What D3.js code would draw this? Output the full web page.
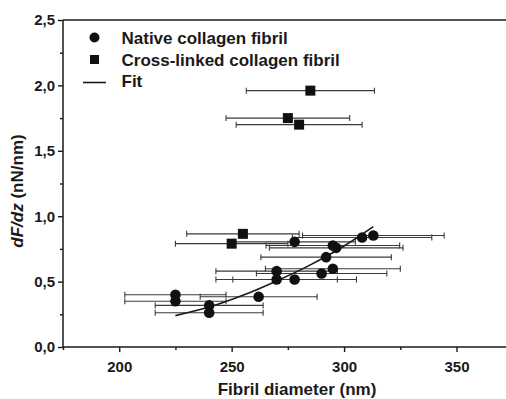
<!DOCTYPE html>
<html>
<head>
<meta charset="utf-8">
<script src="https://cdn.jsdelivr.net/npm/d3@7"></script>
<style>
  html, body { margin: 0; padding: 0; background: #fff; }
  svg { display: block; font-family: "Liberation Sans", Arial, sans-serif; }
</style>
</head>
<body>
<svg id="chart" width="506" height="399"></svg>
<script>
// ---- data ----
const nativeX   = [225, 225, 240, 240, 262, 270, 270, 278, 278, 290, 295, 292, 295, 296.5, 308, 313];
const nativeY   = [0.40, 0.35, 0.318, 0.262, 0.384, 0.58, 0.516, 0.516, 0.804, 0.562, 0.598, 0.687, 0.776, 0.758, 0.837, 0.852];
const nativeErr = [22.5, 22.5, 24, 24, 26, 27, 27, 27.5, 27, 29, 30, 29, 29.7, 29.7, 31, 31.5];

const crossX   = [285, 275, 280, 255, 250];
const crossY   = [1.96, 1.75, 1.70, 0.865, 0.79];
const crossErr = [28.5, 27.5, 28, 25, 25];

const fitX = [225, 240, 255, 270, 285, 300, 313];
const fitY = [0.24, 0.305, 0.395, 0.505, 0.628, 0.772, 0.92];

const xMajorTicks = [200, 250, 300, 350];
const xMinorTicks = [175, 225, 275, 325];
const yMajorTicks = [0, 0.5, 1.0, 1.5, 2.0, 2.5];
const yMinorTicks = [0.25, 0.75, 1.25, 1.75, 2.25];

const legendLabels = ["Native collagen fibril", "Cross-linked collagen fibril", "Fit"];
const xTitle = "Fibril diameter (nm)";

// ---- layout ----
const W = 506, H = 399;
const L = 63, R = 506, T = 20, B = 347;
const ink = "#1a1a1a";

const svg = d3.select("#chart");
const x = d3.scaleLinear().domain([175, 372]).range([L, R]);
const y = d3.scaleLinear().domain([0, 2.5]).range([B, T]);

const loc = d3.formatLocale({decimal: ",", thousands: ".", grouping: [3], currency: ["", ""]});
const yFmt = loc.format(".1f");

// axes
const gx = svg.append("g").attr("transform", `translate(0,${B})`)
  .call(d3.axisBottom(x).tickValues(xMajorTicks).tickSize(5).tickPadding(9).tickFormat(d3.format("d")));
const gxm = svg.append("g").attr("transform", `translate(0,${B})`)
  .call(d3.axisBottom(x).tickValues(xMinorTicks).tickSize(3).tickFormat(""));
const gy = svg.append("g").attr("transform", `translate(${L},0)`)
  .call(d3.axisLeft(y).tickValues(yMajorTicks).tickSize(5).tickPadding(3).tickFormat(yFmt));
const gym = svg.append("g").attr("transform", `translate(${L},0)`)
  .call(d3.axisLeft(y).tickValues(yMinorTicks).tickSize(3).tickFormat(""));

[gx, gxm, gy, gym].forEach(g => {
  g.select(".domain").remove();
  g.selectAll(".tick line").attr("stroke", ink).attr("stroke-width", 1.4);
  g.selectAll(".tick text").attr("fill", ink).attr("font-size", 15).attr("font-weight", "bold")
    .attr("font-family", "'Liberation Sans', Arial, sans-serif");
});

// frame lines (left, bottom, top)
svg.append("line").attr("x1", L).attr("x2", L).attr("y1", T).attr("y2", B).attr("stroke", ink).attr("stroke-width", 1.5);
svg.append("line").attr("x1", L).attr("x2", R).attr("y1", B).attr("y2", B).attr("stroke", ink).attr("stroke-width", 1.5);
svg.append("line").attr("x1", L).attr("x2", R).attr("y1", T).attr("y2", T).attr("stroke", ink).attr("stroke-width", 1.5);

// axis titles
svg.append("text").attr("x", 297).attr("y", 395).attr("text-anchor", "middle")
  .attr("font-size", 17).attr("font-weight", "bold").attr("fill", ink).text(xTitle);
const yt = svg.append("text").attr("transform", `translate(23,191) rotate(-90)`).attr("text-anchor", "middle")
  .attr("font-size", 17).attr("font-weight", "bold").attr("fill", ink);
yt.append("tspan").attr("font-style", "italic").text("dF/dz");
yt.append("tspan").text(" (nN/nm)");

// error bars
const errColor = "#3a3a3a";
function drawErr(xs, ys, es) {
  const g = svg.append("g").attr("stroke", errColor).attr("stroke-width", 1.1).attr("fill", "none");
  xs.forEach((xv, i) => {
    const cy = y(ys[i]), x0 = x(xv - es[i]), x1 = x(xv + es[i]);
    g.append("line").attr("x1", x0).attr("x2", x1).attr("y1", cy).attr("y2", cy);
    g.append("line").attr("x1", x0).attr("x2", x0).attr("y1", cy - 3).attr("y2", cy + 3);
    g.append("line").attr("x1", x1).attr("x2", x1).attr("y1", cy - 3).attr("y2", cy + 3);
  });
}
drawErr(nativeX, nativeY, nativeErr);
drawErr(crossX, crossY, crossErr);

// fit line
const fitPts = fitX.map((v, i) => [v, fitY[i]]);
svg.append("path").datum(fitPts)
  .attr("d", d3.line().x(d => x(d[0])).y(d => y(d[1])).curve(d3.curveMonotoneX))
  .attr("fill", "none").attr("stroke", ink).attr("stroke-width", 1.6);

// markers
svg.append("g").selectAll("circle").data(nativeX).join("circle")
  .attr("cx", d => x(d)).attr("cy", (d, i) => y(nativeY[i])).attr("r", 5.3).attr("fill", "#111");
const s = 10;
svg.append("g").selectAll("rect").data(crossX).join("rect")
  .attr("x", d => x(d) - s / 2).attr("y", (d, i) => y(crossY[i]) - s / 2)
  .attr("width", s).attr("height", s).attr("fill", "#111");

// legend
const lg = svg.append("g");
lg.append("circle").attr("cx", 94.5).attr("cy", 37.5).attr("r", 5).attr("fill", "#111");
lg.append("rect").attr("x", 90).attr("y", 55).attr("width", 9).attr("height", 9).attr("fill", "#111");
lg.append("line").attr("x1", 83).attr("x2", 106).attr("y1", 82.5).attr("y2", 82.5).attr("stroke", ink).attr("stroke-width", 1.6);
const lBase = [43.5, 65.5, 87];
legendLabels.forEach((t, i) => {
  lg.append("text").attr("x", 121.5).attr("y", lBase[i]).attr("font-size", 17).attr("font-weight", "bold")
    .attr("fill", ink).text(t);
});
</script>
</body>
</html>
